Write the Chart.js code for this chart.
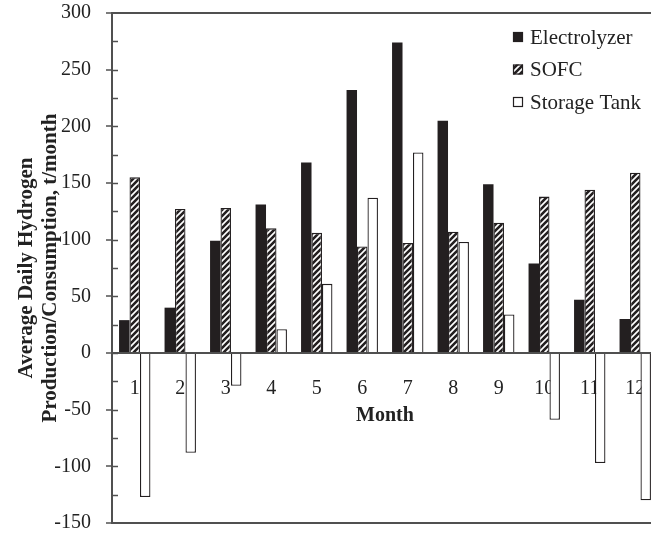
<!DOCTYPE html>
<html>
<head>
<meta charset="utf-8">
<script src="https://cdn.jsdelivr.net/npm/chart.js@4/dist/chart.umd.min.js"></script>
<style>
  html, body { margin: 0; padding: 0; background: #ffffff; overflow: hidden; }
  #wrap { width: 651px; height: 535px; overflow: hidden; position: relative; }
  #c { display: block; }
</style>
</head>
<body>
<div id="wrap"><canvas id="c" width="658" height="535"></canvas></div>
<script>
// Monthly hydrogen balance
const months = ['1', '2', '3', '4', '5', '6', '7', '8', '9', '10', '11', '12'];
const electrolyzer = [29, 40, 99, 131, 168, 232, 274, 205, 149, 79, 47, 30];
const sofc = [155, 127, 128, 110, 106, 94, 97, 107, 115, 138, 144, 159];
const storageTank = [-127, -88, -29, 21, 61, 137, 177, 98, 34, -59, -97, -130];
const seriesNames = ['Electrolyzer', 'SOFC', 'Storage Tank'];
const yMin = -150, yMax = 300, yStep = 25, yLabelStep = 50;

const SERIF = '"Liberation Serif", "Times New Roman", serif';
const INK = '#222222';
const AXIS = '#505050';
const BAR_DARK = '#231f20';

// diagonal hatch used for the SOFC bars
function makeHatch() {
  const s = 6;
  const c = document.createElement('canvas');
  c.width = s; c.height = s;
  const g = c.getContext('2d');
  g.fillStyle = '#ffffff';
  g.fillRect(0, 0, s, s);
  g.strokeStyle = BAR_DARK;
  g.lineWidth = 2.6;
  g.lineCap = 'square';
  g.beginPath();
  g.moveTo(-1, s + 1); g.lineTo(s + 1, -1);
  g.moveTo(-1, 1); g.lineTo(1, -1);
  g.moveTo(s - 1, s + 1); g.lineTo(s + 1, s - 1);
  g.stroke();
  return g.createPattern(c, 'repeat');
}
const hatch = makeHatch();

// small inward tick marks on the value axis
const innerTicks = {
  id: 'innerTicks',
  afterDraw(chart) {
    const sc = chart.scales.y;
    const ctx = chart.ctx;
    ctx.save();
    ctx.strokeStyle = AXIS;
    ctx.lineWidth = 1.5;
    sc.ticks.forEach((t, i) => {
      if (t.value === yMax || t.value === yMin) return;
      const py = Math.round(sc.getPixelForTick(i)) + 0.5;
      ctx.beginPath();
      ctx.moveTo(sc.right, py);
      ctx.lineTo(sc.right + 6, py);
      ctx.stroke();
    });
    ctx.restore();
  }
};

// legend in the upper right corner of the plot
const cornerLegend = {
  id: 'cornerLegend',
  afterDraw(chart) {
    const ctx = chart.ctx;
    const area = chart.chartArea;
    const bx = area.right - 145;
    ctx.save();
    ctx.font = '21px ' + SERIF;
    ctx.textBaseline = 'middle';
    ctx.textAlign = 'left';
    chart.data.datasets.forEach((ds, i) => {
      const cy = area.top + 24 + i * 32.5;
      ctx.fillStyle = ds.backgroundColor;
      ctx.fillRect(bx, cy - 5, 10, 10);
      ctx.strokeStyle = BAR_DARK;
      ctx.lineWidth = 1.2;
      ctx.strokeRect(bx + 0.5, cy - 4.5, 9, 9);
      ctx.fillStyle = INK;
      ctx.fillText(ds.label, bx + 17, cy + 1);
    });
    ctx.restore();
  }
};

new Chart(document.getElementById('c'), {
  type: 'bar',
  data: {
    labels: months,
    datasets: [
      { label: seriesNames[0], data: electrolyzer, backgroundColor: BAR_DARK, borderColor: BAR_DARK, borderWidth: 0 },
      { label: seriesNames[1], data: sofc, backgroundColor: hatch, borderColor: BAR_DARK, borderWidth: 1.3 },
      { label: seriesNames[2], data: storageTank, backgroundColor: '#ffffff', borderColor: BAR_DARK, borderWidth: 1.3 }
    ]
  },
  options: {
    responsive: false,
    animation: false,
    devicePixelRatio: 1,
    layout: { padding: { top: 13, bottom: 12, left: 0, right: 0 } },
    datasets: { bar: { barPercentage: 1.0, categoryPercentage: 0.69 } },
    plugins: {
      legend: { display: false },
      tooltip: { enabled: false }
    },
    scales: {
      x: {
        type: 'category',
        position: { y: 0 },
        offset: true,
        afterFit(scale) { scale.paddingLeft = 0; scale.paddingRight = 0; },
        grid: { display: false, drawTicks: false },
        border: { display: true, color: AXIS, width: 2 },
        ticks: { color: INK, font: { family: SERIF, size: 20 }, padding: 24, maxRotation: 0, autoSkip: false },
        title: {
          display: true, text: 'Month', color: INK,
          font: { family: SERIF, size: 20, weight: 'bold' },
          padding: { top: -21, bottom: 0 }
        }
      },
      y: {
        min: yMin,
        max: yMax,
        afterFit(scale) { scale.width = 112; scale.paddingTop = 11; scale.paddingBottom = 11; },
        border: { display: true, color: AXIS, width: 2 },
        grid: {
          drawOnChartArea: true,
          drawTicks: true,
          tickLength: 6,
          lineWidth: 2,
          color: (c) => (c.tick && (c.tick.value === yMax || c.tick.value === yMin)) ? AXIS : 'rgba(0,0,0,0)',
          tickColor: (c) => (c.tick && c.tick.value % yLabelStep === 0) ? AXIS : 'rgba(0,0,0,0)',
          tickWidth: 1.5
        },
        ticks: {
          stepSize: yStep,
          autoSkip: false,
          color: INK,
          padding: 15,
          font: { family: SERIF, size: 20 },
          callback: (v) => (v % yLabelStep === 0 ? String(v) : '')
        },
        title: {
          display: true,
          text: ['Average Daily Hydrogen', 'Production/Consumption, t/month'],
          color: INK,
          font: { family: SERIF, size: 21, weight: 'bold', lineHeight: 1.13 },
          padding: { top: 15, bottom: 0 }
        }
      }
    }
  },
  plugins: [innerTicks, cornerLegend]
});
</script>
</body>
</html>
